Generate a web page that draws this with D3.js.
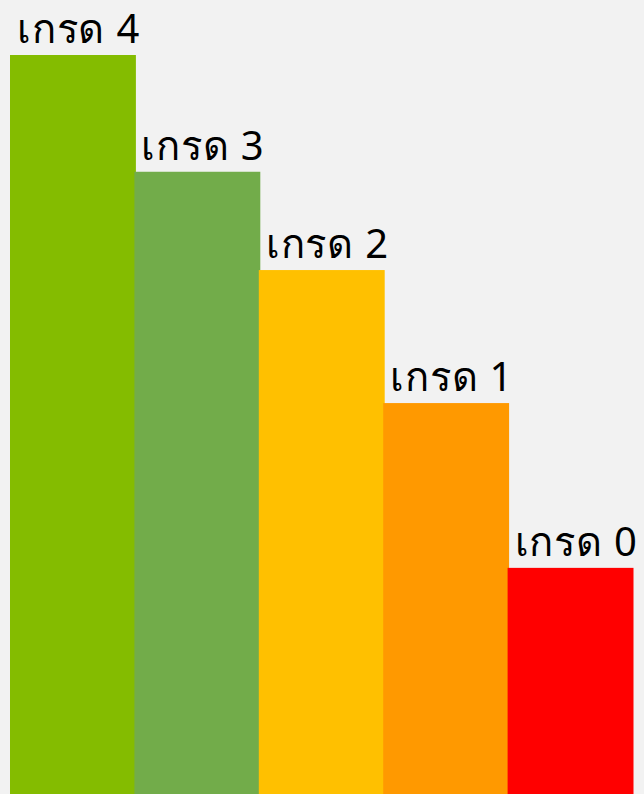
<!DOCTYPE html>
<html>
<head>
<meta charset="utf-8">
<script src="https://cdn.jsdelivr.net/npm/d3@7"></script>
<style>
  html, body { margin: 0; padding: 0; background: #f2f2f2; }
  .grade-label { font-family: "Noto Sans", "DejaVu Sans", sans-serif; font-size: 40px; fill: #000; letter-spacing: 0.8px; }
</style>
</head>
<body>
<div class="chart-container"></div>
<script>
/********** the Data **********/
let grades = ["เกรด 4", "เกรด 3", "เกรด 2", "เกรด 1", "เกรด 0"];
let gradeValues = [100, 84.2, 70.9, 52.9, 30.6];
let gradeColors = ["#84bc00", "#72ac4a", "#ffc000", "#ff9900", "#ff0000"];

/********** drawChart function **********/
function drawChart() {
  let width = 644;
  let height = 794;
  let margin = {top: 55, right: 12, bottom: 0, left: 10};

  let xScale = d3.scaleBand()
                .domain(grades)
                .range([margin.left, width - margin.right])
                .padding(0);

  let yScale = d3.scaleLinear()
                .domain([0, d3.max(gradeValues)])
                .range([height - margin.bottom, margin.top]);

  let chart = d3.select(".chart-container")
              .append("svg")
                .attr("class", "chart")
                .attr("width", width)
                .attr("height", height)
                .style("display", "block");

  chart.append("rect")
    .attr("width", width)
    .attr("height", height)
    .attr("fill", "#f2f2f2");

  let data = grades.map((g, i) => ({grade: g, value: gradeValues[i], color: gradeColors[i]}));

  // bars overlap by a pixel or so, like the original
  chart.selectAll(".bar")
      .data(data)
    .enter().append("rect")
      .attr("class", "bar")
      .attr("x", d => xScale(d.grade))
      .attr("width", xScale.bandwidth() + 1.5)
      .attr("y", d => yScale(d.value))
      .attr("height", d => height - margin.bottom - yScale(d.value))
      .attr("fill", d => d.color);

  // grade label sits above each bar
  chart.selectAll(".grade-label")
      .data(data)
    .enter().append("text")
      .attr("class", "grade-label")
      .attr("x", d => xScale(d.grade) + 7)
      .attr("y", d => yScale(d.value) - 12)
      .attr("text-anchor", "start")
      .text(d => d.grade);
}

drawChart();
</script>
</body>
</html>
